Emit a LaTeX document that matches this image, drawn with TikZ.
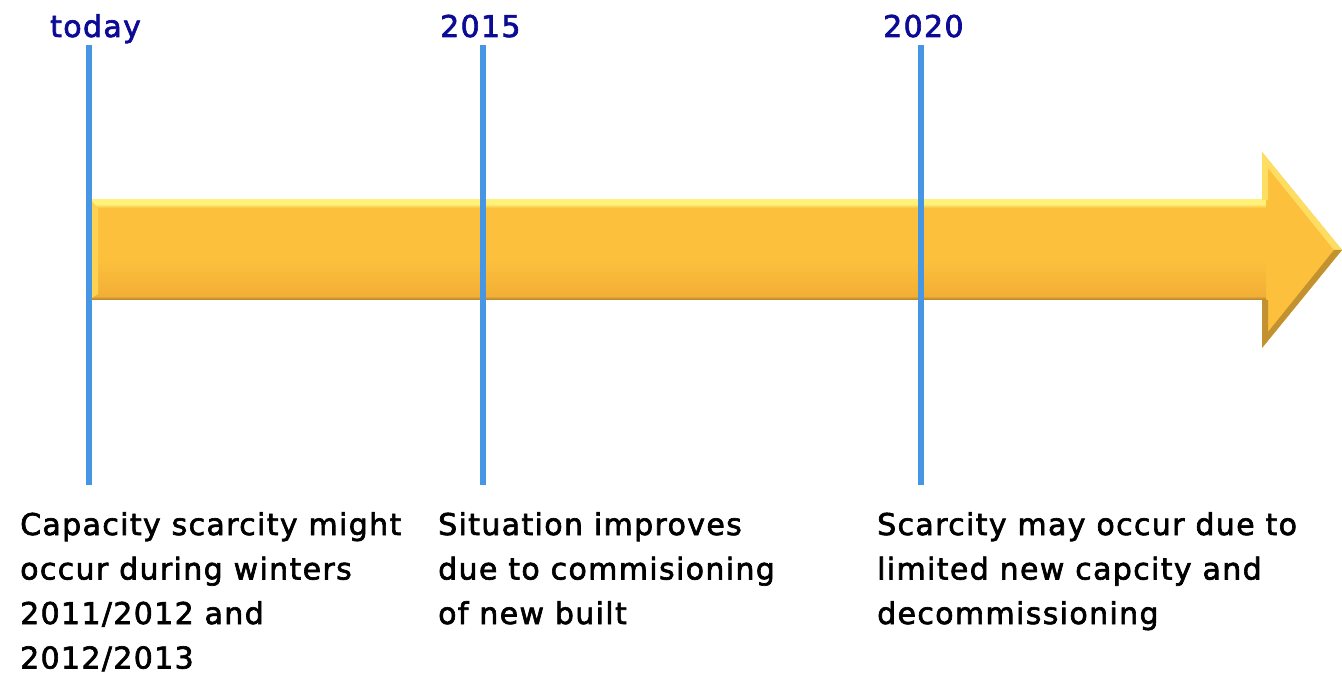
\documentclass[tikz,border=0pt]{standalone}
\usepackage{fontspec}
\setmainfont{DejaVu Sans}[FakeBold=2.2, LetterSpace=4.5]
\definecolor{yearblue}{HTML}{0B0B96}
\definecolor{tickblue}{HTML}{4796E3}
\definecolor{goldmid}{HTML}{FCC03D}
\definecolor{goldtop}{HTML}{FFF27A}
\definecolor{goldlow}{HTML}{F2AF35}
\definecolor{goldedge}{HTML}{A97E2C}
% the shaft shading: only the middle 25bp..75bp covers the shape
\pgfdeclareverticalshading{shaftshade}{100bp}{
  color(0bp)=(goldedge); color(25bp)=(goldedge); color(27bp)=(goldlow);
  color(45bp)=(goldmid); color(71bp)=(goldmid); color(73bp)=(goldtop); color(75bp)=(goldtop); color(100bp)=(goldtop)}
\begin{document}
\begin{tikzpicture}[x=1pt,y=-1pt,
  yearlabel/.style={anchor=base west, inner sep=0pt, text=yearblue,
    font=\fontsize{30}{36}\selectfont},
  note/.style={anchor=base west, inner sep=0pt, align=left, text=black,
    font=\fontsize{30}{44.5}\selectfont},
  tick/.style={draw=tickblue, line width=5.5pt}]
\useasboundingbox (0,0) rectangle (1342,676);

% the big gold arrow
\fill[goldmid] (92,200) -- (1262,200) -- (1262,152) -- (1342,250)
  -- (1262,348) -- (1262,300) -- (92,300) -- cycle;
\shade[shading=shaftshade] (92,200) rectangle (1266,300);
% bevel along the left end and on the head
\fill[goldtop!35!goldmid] (92,202) -- (98,208) -- (98,294) -- (92,298) -- cycle;
\fill[goldtop!60!goldmid] (1262,152) -- (1342,250) -- (1334,250) -- (1268,168) -- (1268,200) -- (1262,200) -- cycle;
\fill[goldedge!70!goldmid] (1262,348) -- (1342,250) -- (1334,250) -- (1268,332) -- (1268,300) -- (1262,300) -- cycle;

% time markers
\coordinate (t0top) at (89,45);  \coordinate (t0bot) at (89,485);
\coordinate (t1top) at (483,45); \coordinate (t1bot) at (483,485);
\coordinate (t2top) at (921,45); \coordinate (t2bot) at (921,485);
\draw[tick] (t0top) -- (t0bot);
\draw[tick] (t1top) -- (t1bot);
\draw[tick] (t2top) -- (t2bot);

\node[yearlabel] (today) at (50,37) {today};
\node[yearlabel] (y2015) at (440,37) {2015};
\node[yearlabel] (y2020) at (883,37) {2020};

% multi-line notes are anchored at the baseline of their last line
\node[note] (n0) at (20,668.5) {Capacity scarcity might\\occur during winters\\2011/2012 and\\2012/2013};
\node[note] (n1) at (438,624) {Situation improves\\due to commisioning\\of new built};
\node[note] (n2) at (877,624) {Scarcity may occur due to\\limited new capcity and\\decommissioning};
\end{tikzpicture}
\end{document}
